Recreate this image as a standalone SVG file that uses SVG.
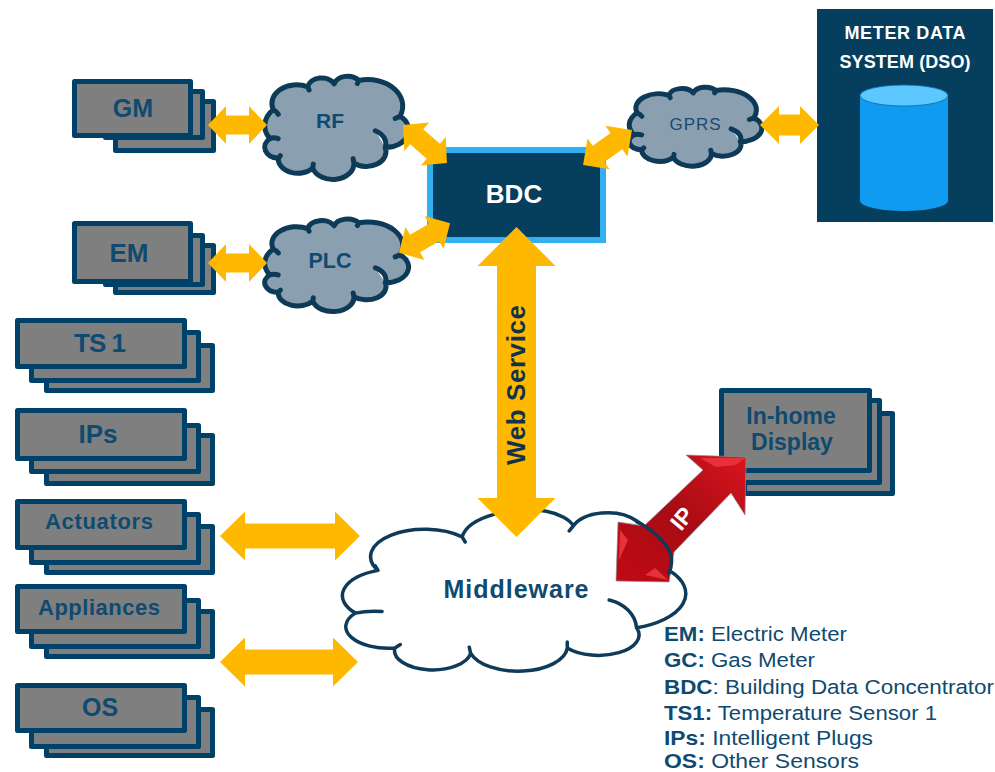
<svg xmlns="http://www.w3.org/2000/svg" width="995" height="772" viewBox="0 0 995 772">
<style>
text{font-family:"Liberation Sans",Arial,sans-serif}
.st{fill:#7f7f7f;stroke:#004169;stroke-width:5;stroke-linejoin:round}
.lb{fill:#0f4a70;font-weight:bold;text-anchor:middle}
.oa{fill:#ffb800}
.cb{fill:#8a9fb0;stroke:#0d3a57;stroke-width:5;stroke-linejoin:round;stroke-linecap:round}
.cm{fill:#fff;stroke:#0f3b5a;stroke-width:3.5;stroke-linejoin:round;stroke-linecap:round}
.lg{fill:#0f4a70;font-size:20.5px}
.lg tspan{font-weight:bold}
</style>
<defs>
<path id="bumpy" vector-effect="non-scaling-stroke" d="M5.900 33.600A17.600 17.600 0 0 1 30.600 12.200A10 10 0 0 1 49.400 9.200A10 10 0 0 1 67 6.100A25 25 0 0 1 96.500 39.800A16.700 16.700 0 0 1 85.900 69.400A14 14 0 0 1 63.500 84A15 15 0 0 1 34.100 88.700A14 14 0 0 1 9.400 79.500A10.500 10.500 0 0 1 3.500 61A22 22 0 0 1 5.900 33.600Z M85.900 69.400A14 14 0 0 0 78.800 53.500 M3.500 61Q6 59.500 9.400 61 M5.900 33.600Q8 35 9.500 38 M30.600 12.200L31.500 15 M67 6.100L66 9 M96.500 39.800L93 42 M63.500 84L63 80 M34.100 88.700L34.500 85 M9.400 79.500L11 77"/>
<path id="fluffy" vector-effect="non-scaling-stroke" d="M10.200 35.600A16 16 0 0 1 35.100 16C37 4 50 -2 60 1C64 2.500 67 6 68 9.600C71 1.500 81 -1.500 87 7C92 13 96.500 25 96.600 36A21 21 0 0 1 86.700 69.200A12 12 0 0 1 66.200 81A14.600 14.600 0 0 1 37.600 84A11.300 11.300 0 0 1 15.200 81A12.600 12.600 0 0 1 3.500 60.600A15.600 15.600 0 0 1 10.200 35.600Z M86.700 69.200A11 18 0 0 0 78.600 52.900 M3.500 60.600Q7 59 11.400 59.600 M35.100 16L36 19 M68 9.600L66.800 12.500 M66.200 81L66.200 77.500 M37.600 84L37.200 80.500 M15.200 81L16.800 79 M10.200 35.600L9.400 33"/>
<linearGradient id="red" x1="0" y1="1" x2="1" y2="0"><stop offset="0" stop-color="#c00a14"/><stop offset=".5" stop-color="#a80c14"/><stop offset="1" stop-color="#d9141e"/></linearGradient>
</defs>

<g id="node-gm">
<rect class="st" x="115.500" y="101.500" width="98" height="49"/><rect class="st" x="105.500" y="91.500" width="97" height="46"/><rect class="st" x="74.500" y="81.500" width="116" height="54"/>
<text class="lb" x="133" y="117" font-size="25">GM</text></g>
<g id="node-em">
<rect class="st" x="115.500" y="245.500" width="98" height="47"/><rect class="st" x="105.500" y="235.500" width="97" height="49"/><rect class="st" x="74.500" y="223.500" width="116" height="58"/>
<text class="lb" x="129" y="262" font-size="26">EM</text></g>
<g id="node-ts1">
<rect class="st" x="46.500" y="345.500" width="166" height="45"/><rect class="st" x="31.500" y="332.500" width="167" height="48"/><rect class="st" x="17.500" y="320.500" width="167" height="46"/>
<text class="lb" x="100" y="352" font-size="26" textLength="52">TS 1</text></g>
<g id="node-ips">
<rect class="st" x="46.500" y="435.500" width="166" height="48"/><rect class="st" x="31.500" y="425.500" width="167" height="46"/><rect class="st" x="17.500" y="410.500" width="167" height="48"/>
<text class="lb" x="98" y="443" font-size="26">IPs</text></g>
<g id="node-actuators">
<rect class="st" x="46.500" y="526.500" width="166" height="46"/><rect class="st" x="31.500" y="514.500" width="167" height="48"/><rect class="st" x="17.500" y="501.500" width="167" height="46"/>
<text class="lb" x="99" y="529" font-size="22" textLength="108">Actuators</text></g>
<g id="node-appliances">
<rect class="st" x="46.500" y="611.500" width="166" height="45"/><rect class="st" x="31.500" y="600.500" width="167" height="46"/><rect class="st" x="17.500" y="586.500" width="167" height="45"/>
<text class="lb" x="99" y="615" font-size="22" textLength="122">Appliances</text></g>
<g id="node-os">
<rect class="st" x="46.500" y="709.500" width="166" height="46"/><rect class="st" x="31.500" y="697.500" width="167" height="49"/><rect class="st" x="17.500" y="685.500" width="167" height="45"/>
<text class="lb" x="100" y="716" font-size="25">OS</text></g>
<g id="node-inhome">
<rect class="st" x="744.500" y="413.500" width="148" height="80"/><rect class="st" x="732.500" y="400.500" width="147" height="82"/><rect class="st" x="721.500" y="390.500" width="148" height="80"/>
<text class="lb" x="791" y="424" font-size="23">In-home</text><text class="lb" x="792" y="450" font-size="23">Display</text></g>

<g id="node-rf"><use href="#bumpy" class="cb" transform="translate(265,74) scale(1.4,1.06)"/><text class="lb" x="330" y="128" font-size="21">RF</text></g>
<g id="node-plc"><use href="#bumpy" class="cb" transform="translate(265,217) scale(1.4,.95)"/><text class="lb" x="330" y="268" font-size="21.500">PLC</text></g>
<g id="node-gprs"><use href="#bumpy" class="cb" transform="translate(629.500,85.500) scale(1.29,.81)"/><text x="695" y="130" font-size="17" fill="#1c4a6e" text-anchor="middle" textLength="51">GPRS</text></g>

<g id="node-bdc"><rect x="430" y="150" width="173" height="90" fill="#063f5e" stroke="#33b0f0" stroke-width="6"/><text x="514" y="203" font-size="26" font-weight="bold" fill="#fff" text-anchor="middle">BDC</text></g>

<g id="node-meter"><rect x="817" y="9" width="176" height="213" fill="#063f5e"/>
<text x="905" y="39" font-size="18" font-weight="bold" fill="#fff" text-anchor="middle" textLength="121">METER DATA</text>
<text x="905" y="68" font-size="18" font-weight="bold" fill="#fff" text-anchor="middle" textLength="131">SYSTEM (DSO)</text>
<path d="M860 96V201A44 10 0 0 0 948 201V96Z" fill="#0e9bf0"/><ellipse cx="904" cy="95.500" rx="44" ry="10.500" fill="#5cc8ff" stroke="#0a6aa8" stroke-width=".8"/></g>

<g id="node-middleware"><use href="#fluffy" class="cm" transform="translate(343.500,509.500) scale(3.38,1.71)"/><text class="lb" x="516" y="598" font-size="25" textLength="145">Middleware</text></g>

<g id="connectors">
<polygon id="c-gm-rf" class="oa" points="208,125 226,106 226,115.500 249,115.500 249,106 267,125 249,144 249,134.500 226,134.500 226,144"/>
<polygon id="c-em-plc" class="oa" points="208,263 226,244 226,253.500 249,253.500 249,244 267,263 249,282 249,272.500 226,272.500 226,282"/>
<g id="c-rf-bdc" transform="translate(425,144) rotate(41)"><polygon class="oa" points="-29,0 -11,-19 -11,-10 11,-10 11,-19 29,0 11,19 11,10 -11,10 -11,19"/></g>
<g id="c-plc-bdc" transform="translate(424.500,238) rotate(-30)"><polygon class="oa" points="-29.500,0 -11,-19 -11,-10 11,-10 11,-19 29.500,0 11,19 11,10 -11,10 -11,19"/></g>
<g id="c-bdc-gprs" transform="translate(607.500,147.500) rotate(-35.500)"><polygon class="oa" points="-30,0 -11,-19 -11,-10 11,-10 11,-19 30,0 11,19 11,10 -11,10 -11,19"/></g>
<polygon id="c-gprs-meter" class="oa" points="760,125 779,106 779,114.500 800,114.500 800,106 819,125 800,144 800,135.500 779,135.500 779,144"/>
<polygon id="c-actuators" class="oa" points="220,536 245,511.500 245,523.500 335,523.500 335,511.500 360,536 335,560.500 335,548.500 245,548.500 245,560.500"/>
<polygon id="c-appliances" class="oa" points="220,662 245,637.500 245,649.500 333,649.500 333,637.500 358,662 333,686.500 333,674.500 245,674.500 245,686.500"/>
<polygon id="c-web" class="oa" points="516.500,227 555.500,266 536,266 536,498 555.500,498 516.500,537 477.500,498 497,498 497,266 477.500,266"/>
<text transform="translate(525,385) rotate(-90)" font-size="26" font-weight="bold" fill="#12324a" text-anchor="middle" textLength="160">Web Service</text>
<g id="c-ip"><polygon points="746,457 686,455 703,470 644,526 618,522 616,581 669,582 674,552 731,493 745,515" fill="url(#red)" stroke="#8a8f98" stroke-width=".7"/>
<polygon points="746,458 700,458 716,467 735,465" fill="#e8303a"/><polygon points="620,530 619,560 628,540" fill="#e8303a"/><polygon points="645,575 668,580 655,568" fill="#e8303a"/>
<text transform="translate(681,532) rotate(-50)" font-size="23" font-weight="bold" fill="#fff">IP</text></g>
</g>
<path id="middleware-edge" d="M637 522C650 528 664 540 670 552C673 560 672 566 669 573" fill="none" stroke="#0f3b5a" stroke-width="3.500" stroke-linecap="round"/>

<g id="legend">
<text class="lg" x="664" y="641" textLength="183" lengthAdjust="spacingAndGlyphs"><tspan>EM:</tspan> Electric Meter</text>
<text class="lg" x="664" y="667" textLength="151" lengthAdjust="spacingAndGlyphs"><tspan>GC:</tspan> Gas Meter</text>
<text class="lg" x="664" y="694" textLength="330" lengthAdjust="spacingAndGlyphs"><tspan>BDC</tspan>: Building Data Concentrator</text>
<text class="lg" x="664" y="720" textLength="273" lengthAdjust="spacingAndGlyphs"><tspan>TS1:</tspan> Temperature Sensor 1</text>
<text class="lg" x="664" y="745" textLength="209" lengthAdjust="spacingAndGlyphs"><tspan>IPs:</tspan> Intelligent Plugs</text>
<text class="lg" x="664" y="767.500" textLength="195" lengthAdjust="spacingAndGlyphs"><tspan>OS:</tspan> Other Sensors</text>
</g>
</svg>
